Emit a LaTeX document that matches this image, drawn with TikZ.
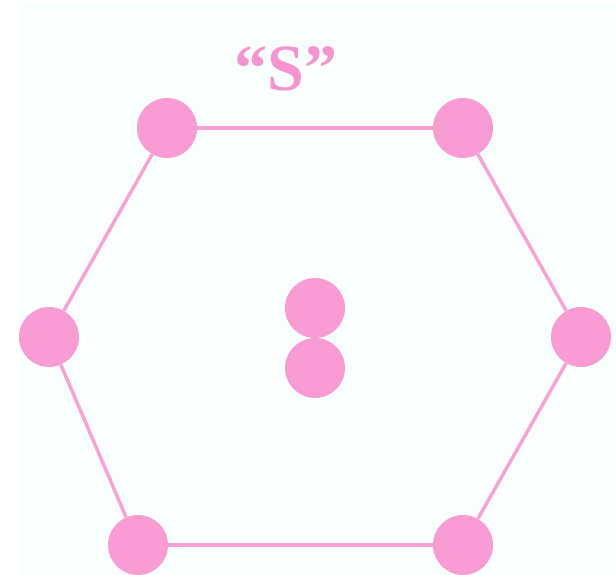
\documentclass[tikz,border=0pt]{standalone}
\usepackage{fontspec}
\setmainfont{Liberation Serif}
\definecolor{bgc}{HTML}{F9FEFE}
\definecolor{dotc}{HTML}{F89CD3}
\definecolor{edgec}{HTML}{F9A0D4}
\definecolor{txtc}{HTML}{F794CF}
\begin{document}
\begin{tikzpicture}[x=1pt,y=-1pt,
  atom/.style={circle,fill=dotc,minimum size=60pt,inner sep=0pt},
  bond/.style={draw=edgec,line width=3.4pt}]
\useasboundingbox (0,0) rectangle (616,575);
\fill[white] (0,0) rectangle (616,575);
\fill[bgc] (20,3) rectangle (616,575);
\node[atom] (tl) at (167,128) {};
\node[atom] (tr) at (463,128) {};
\node[atom] (l) at (49,337) {};
\node[atom] (r) at (581,337) {};
\node[atom] (bl) at (138,545) {};
\node[atom] (br) at (463,545) {};
\node[atom] (c1) at (315,308) {};
\node[atom] (c2) at (315,368) {};
\draw[bond] (tl) -- (tr);
\draw[bond] (tr) -- (r);
\draw[bond] (r) -- (br);
\draw[bond] (br) -- (bl);
\draw[bond] (bl) -- (l);
\draw[bond] (l) -- (tl);
\node[text=txtc,font=\bfseries\fontsize{66}{76}\selectfont,anchor=base,inner sep=0pt] (title) at (286,91) {“S”};
\end{tikzpicture}
\end{document}
